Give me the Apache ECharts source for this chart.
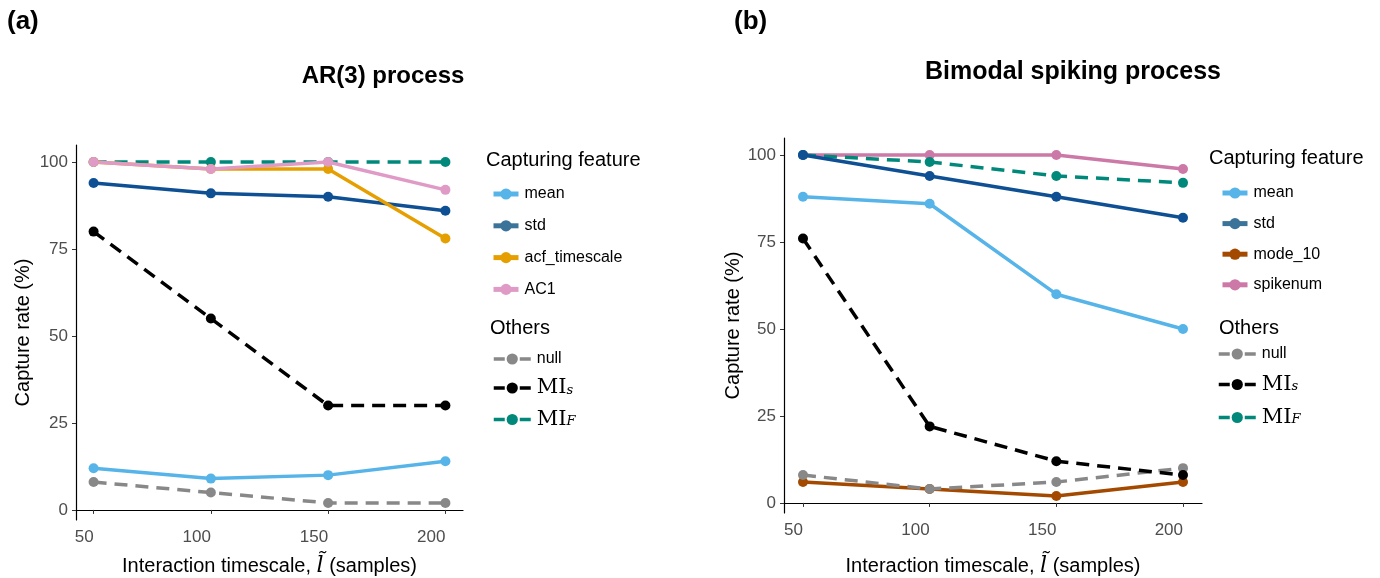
<!DOCTYPE html>
<html>
<head>
<meta charset="utf-8">
<script src="https://cdn.jsdelivr.net/npm/echarts@6/dist/echarts.min.js"></script>
<style>
  html, body { margin: 0; padding: 0; background: #fff; }
  #chart { width: 1380px; height: 578px; }
</style>
</head>
<body>
<div id="chart"></div>
<script>
var xValues = [50, 100, 150, 200],
    xTicks = [50, 100, 150, 200],
    yTicks = [0, 25, 50, 75, 100];

// (a) AR(3) process
var arMean = [12, 9, 10, 14],
    arStd = [94, 91, 90, 86],
    arAcf = [100, 98, 98, 78],
    arAC1 = [100, 98, 100, 92],
    arNull = [8, 5, 2, 2],
    arMIs = [80, 55, 30, 30],
    arMIF = [100, 100, 100, 100];

// (b) Bimodal spiking process
var bmMean = [88, 86, 60, 50],
    bmStd = [100, 94, 88, 82],
    bmMode = [6, 4, 2, 6],
    bmSpike = [100, 100, 100, 96],
    bmNull = [8, 4, 6, 10],
    bmMIs = [76, 22, 12, 8],
    bmMIF = [100, 98, 94, 92];

var FONT = 'Liberation Sans, Arial, sans-serif',
    SERIF = 'DejaVu Serif, Liberation Serif, serif';

var colors = {
    mean: '#56B4E9',
    std: '#0E5093',
    acf_timescale: '#E69F00',
    AC1: '#DF9BC6',
    mode_10: '#A34A00',
    spikenum: '#CC79A7',
    'null': '#888888',
    MIs: '#000000',
    MIF: '#00897B'
};

var pairs = function (ys) {
    return xValues.map(function (x, i) { return [x, ys[i]]; });
};

var mkSeries = function (name, ys, idx, dashed, z) {
    return {
        name: name,
        type: 'line',
        xAxisIndex: idx,
        yAxisIndex: idx,
        data: pairs(ys),
        symbol: 'circle',
        symbolSize: 10,
        showSymbol: true,
        z: z,
        silent: true,
        itemStyle: { color: colors[name] },
        lineStyle: { color: colors[name], width: 3.5, type: dashed ? [13, 8] : 'solid' }
    };
};

var xAxisOf = function (idx, gap) {
    return {
        gridIndex: idx,
        type: 'value',
        min: 42.5,
        max: 207.5,
        axisLine: { lineStyle: { color: '#000', width: 1.2 } },
        axisTick: { show: true, length: 4, customValues: xTicks, lineStyle: { color: '#333' } },
        axisLabel: { customValues: xTicks, align: 'right', color: '#4d4d4d', fontSize: 17, margin: 9, fontFamily: FONT },
        splitLine: { show: false },
        name: '{t|Interaction timescale, }{l|l\u0303}{t| (samples)}',
        nameLocation: 'middle',
        nameGap: gap,
        nameTextStyle: {
            rich: {
                t: { fontSize: 20, color: '#000', fontFamily: FONT },
                l: { fontSize: 22, color: '#000', fontFamily: SERIF, fontStyle: 'italic' }
            }
        }
    };
};

var yAxisOf = function (idx, gap) {
    return {
        gridIndex: idx,
        type: 'value',
        min: -2.9,
        max: 104.9,
        axisLine: { show: true, lineStyle: { color: '#000', width: 1.2 } },
        axisTick: { show: true, length: 4, customValues: yTicks, lineStyle: { color: '#333' } },
        axisLabel: { customValues: yTicks, color: '#4d4d4d', fontSize: 17, margin: 8, fontFamily: FONT },
        splitLine: { show: false },
        name: 'Capture rate (%)',
        nameLocation: 'middle',
        nameGap: gap,
        nameTextStyle: { fontSize: 20, color: '#000', fontFamily: FONT }
    };
};

var legendFmt = function (name) {
    if (name === 'MIs') return '{m|MI}{s|s}';
    if (name === 'MIF') return '{m|MI}{s|F}';
    return name;
};

var legendOf = function (left, top, names, width, gap, lineStyle) {
    return {
        orient: 'vertical',
        left: left,
        top: top,
        itemWidth: width,
        itemHeight: 14,
        itemGap: gap,
        selectedMode: false,
        data: names,
        formatter: legendFmt,
        lineStyle: lineStyle,
        textStyle: {
            fontSize: 16,
            lineHeight: 16,
            color: '#000',
            fontFamily: FONT,
            padding: [0, 0, 0, 1],
            rich: {
                m: { fontSize: 21, lineHeight: 18, fontFamily: SERIF, color: '#000' },
                s: { fontSize: 13, lineHeight: 10, fontFamily: SERIF, fontStyle: 'italic', color: '#000', verticalAlign: 'bottom' }
            }
        }
    };
};

var stdKey = { name: 'std', itemStyle: { color: '#3B7399' }, lineStyle: { color: '#3B7399' } };
var featKey = { width: 5 },
    otherKey = { width: 3.5, type: [11, 15] };

var label = function (text, x, y, size, bold, align) {
    return {
        type: 'text',
        x: x,
        y: y,
        style: {
            text: text,
            fontSize: size,
            fontWeight: bold ? 'bold' : 'normal',
            fontFamily: FONT,
            fill: '#000',
            align: align || 'left',
            verticalAlign: 'middle'
        }
    };
};

var chart = echarts.init(document.getElementById('chart'), null, { renderer: 'canvas' });

chart.setOption({
    animation: false,
    backgroundColor: '#fff',
    grid: [
        { left: 76, top: 145, width: 387, height: 375, containLabel: false, outerBoundsMode: 'none' },
        { left: 784, top: 138, width: 418, height: 375, containLabel: false, outerBoundsMode: 'none' }
    ],
    xAxis: [xAxisOf(0, 35), xAxisOf(1, 42)],
    yAxis: [yAxisOf(0, 43), yAxisOf(1, 41)],
    legend: [
        legendOf(486, 181, ['mean', stdKey, 'acf_timescale', 'AC1'], 25, 15.8, featKey),
        legendOf(487, 346, ['null', 'MIs', 'MIF'], 37, 10.5, otherKey),
        legendOf(1215, 180, ['mean', stdKey, 'mode_10', 'spikenum'], 25, 14.6, featKey),
        legendOf(1212, 341, ['null', 'MIs', 'MIF'], 37, 12, otherKey)
    ],
    graphic: [
        label('(a)', 7, 22, 26, true),
        label('AR(3) process', 383, 76, 24, true, 'center'),
        label('(b)', 734, 22, 26, true),
        label('Bimodal spiking process', 1073, 72, 25, true, 'center'),
        label('Capturing feature', 486, 160, 20, false),
        label('Others', 490, 328, 20, false),
        label('Capturing feature', 1209, 158, 20, false),
        label('Others', 1219, 328, 20, false)
    ],
    series: [
        mkSeries('null', arNull, 0, true, 2),
        mkSeries('MIs', arMIs, 0, true, 2),
        mkSeries('MIF', arMIF, 0, true, 2),
        mkSeries('mean', arMean, 0, false, 3),
        mkSeries('std', arStd, 0, false, 3),
        mkSeries('acf_timescale', arAcf, 0, false, 3),
        mkSeries('AC1', arAC1, 0, false, 3),

        mkSeries('mode_10', bmMode, 1, false, 2),
        mkSeries('spikenum', bmSpike, 1, false, 2),
        mkSeries('mean', bmMean, 1, false, 2),
        mkSeries('null', bmNull, 1, true, 3),
        mkSeries('MIs', bmMIs, 1, true, 3),
        mkSeries('MIF', bmMIF, 1, true, 3),
        mkSeries('std', bmStd, 1, false, 4)
    ]
});
</script>
</body>
</html>
